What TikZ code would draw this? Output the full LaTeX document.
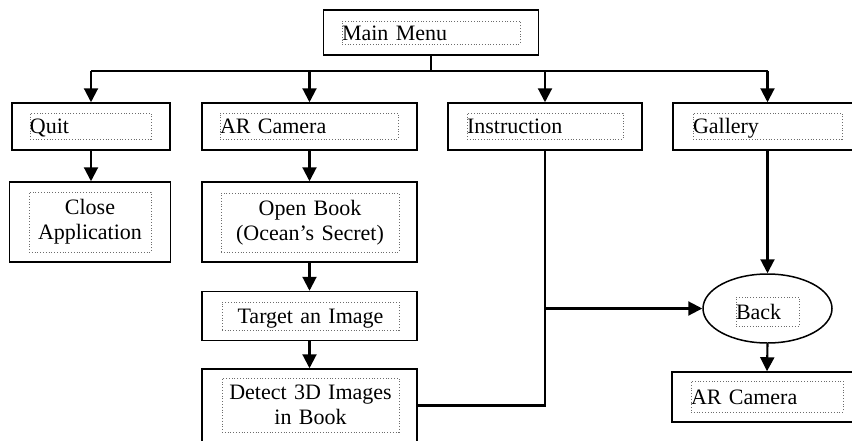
\documentclass[tikz,border=0pt]{standalone}
\usepackage{fontspec}
\setmainfont{Liberation Serif}
\usetikzlibrary{arrows.meta,shapes.geometric}
\newcommand\myfs{\fontsize{22}{25}\selectfont}
\tikzset{
  box/.style={draw=black, line width=1.5pt, inner sep=0pt, fill=white},
  tframe/.style={draw=gray!85!black, dotted, line width=0.8pt, inner sep=0pt, font=\myfs},
  oneline/.style={tframe, align=left, text height=15pt, text depth=0pt},
  twoline/.style={tframe, align=center},
  conn/.style={line width=2.1pt},
  arr/.style={line width=2.1pt, -{Triangle[width=14pt,length=14pt]}}
}
\begin{document}
\begin{tikzpicture}[x=1pt,y=-1pt]
\useasboundingbox (0,0) rectangle (852,440);
\clip (0,0) rectangle (852,440);
% outer boxes
\node[box, minimum width=215pt, minimum height=45pt] (main) at (431,32.5) {};
\node[box, minimum width=158pt, minimum height=47pt] (quit) at (91,126.5) {};
\node[box, minimum width=215pt, minimum height=47pt] (arcam) at (309.5,126.5) {};
\node[box, minimum width=194pt, minimum height=47pt] (instr) at (545,126.5) {};
\node[box, minimum width=189pt, minimum height=47pt] (gallery) at (767.5,126.5) {};
\node[box, minimum width=161pt, minimum height=80pt] (close) at (90,222) {};
\node[box, minimum width=215pt, minimum height=80pt] (open) at (309.5,222) {};
\node[box, minimum width=215pt, minimum height=49pt] (target) at (309.5,316) {};
\node[box, minimum width=215pt, minimum height=73pt] (detect) at (309.5,405.5) {};
\node[box, ellipse, minimum width=129pt, minimum height=69pt] (back) at (767.5,308.5) {};
\node[box, minimum width=190pt, minimum height=50pt] (arcam2) at (767,397) {};
% text frames
\node[oneline, text width=178pt, minimum height=23pt] (mainT) at (431,32.5) {Main Menu};
\node[oneline, text width=121pt, minimum height=26pt] (quitT) at (90.5,126) {Quit};
\node[oneline, text width=178pt, minimum height=26pt] (arcamT) at (309,126) {AR Camera};
\node[oneline, text width=156pt, minimum height=26pt] (instrT) at (545,126) {Instruction};
\node[oneline, text width=149pt, minimum height=26pt] (galleryT) at (767.5,126) {Gallery};
\node[twoline, text width=122pt, minimum height=60pt] (closeT) at (90,222) {Close\\Application};
\node[twoline, text width=178pt, minimum height=59pt] (openT) at (310,222.5) {Open Book\\(Ocean’s Secret)};
\node[oneline, align=center, text width=177pt, minimum height=28pt] (targetT) at (310.5,316) {Target an Image};
\node[twoline, text width=177pt, minimum height=54pt] (detectT) at (310.5,405) {Detect 3D Images\\in Book};
\node[oneline, text width=63pt, minimum height=29pt] (backT) at (767.5,311.5) {Back};
\node[oneline, text width=152pt, minimum height=31pt] (arcam2T) at (767,396.5) {AR Camera};
% connectors
\coordinate (bus) at (431,71);
\draw[conn] (main.south) -- (bus);
\draw[conn] (quit.north |- bus) -- (gallery.north |- bus);
\draw[arr] (quit.north |- bus) -- (quit.north);
\draw[arr] (arcam.north |- bus) -- (arcam.north);
\draw[arr] (instr.north |- bus) -- (instr.north);
\draw[arr] (gallery.north |- bus) -- (gallery.north);
\draw[arr] (quit.south) -- (quit.south |- close.north);
\draw[arr] (arcam.south) -- (open.north);
\draw[arr] (open.south) -- (target.north);
\draw[arr] (target.south) -- (detect.north);
\draw[conn] (instr.south) |- (detect.east);
\draw[arr] (instr.south |- back.west) -- (back.west);
\draw[arr] (gallery.south) -- (back.north);
\draw[arr] (back.south) -- (arcam2.north);
\end{tikzpicture}
\end{document}
